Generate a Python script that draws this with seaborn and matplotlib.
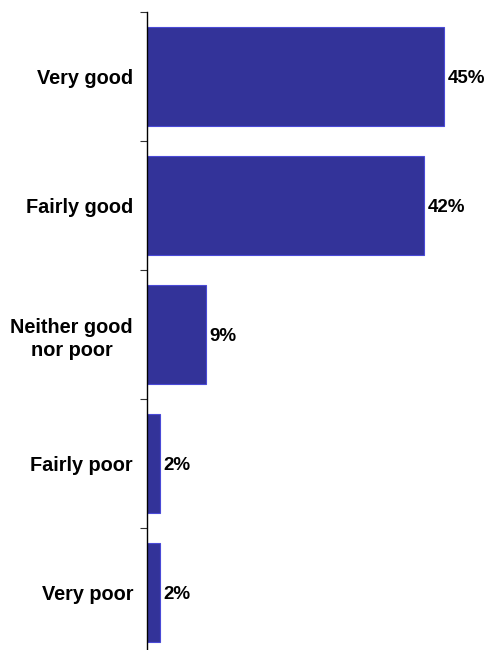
import matplotlib
matplotlib.use("Agg")
import matplotlib.pyplot as plt
import seaborn as sns
import pandas as pd
import numpy as np

categories = ["Very good", "Fairly good", "Neither good\nnor poor", "Fairly poor", "Very poor"]
values = [45, 42, 9, 2, 2]
value_labels = ["45%", "42%", "9%", "2%", "2%"]

sns.set_theme(style="white")
plt.rcParams["font.family"] = ["Liberation Sans", "DejaVu Sans"]

df = pd.DataFrame({"response": categories, "share": values})

fig = plt.figure(figsize=(4.86, 6.5), dpi=100)
ax = fig.add_axes([147 / 486, 1 - 657 / 650, 330 / 486, 645 / 650])

sns.barplot(data=df, x="share", y="response", color="#333399", width=0.77,
            edgecolor="#4a4ad6", linewidth=0.8, saturation=1, ax=ax)

ax.set_xlim(0, 50)
ax.set_ylim(len(categories) - 0.5, -0.5)

for spine in ["top", "right", "bottom"]:
    ax.spines[spine].set_visible(False)
ax.spines["left"].set_color("black")
ax.spines["left"].set_linewidth(1.0)

ax.set_xticks([])
ax.set_xlabel("")
ax.set_ylabel("")

# category labels without tick marks; boundary ticks as minor ticks
ax.set_yticks(range(len(categories)))
ax.set_yticklabels(categories, fontsize=14.3, fontweight="bold", ha="right",
                   multialignment="center", color="black", linespacing=1.3)
ax.tick_params(axis="y", which="major", length=0, pad=10)
ax.set_yticks(np.arange(-0.5, len(categories), 1.0), minor=True)
ax.tick_params(axis="y", which="minor", length=5, width=0.8, color="#333333",
               direction="out", left=True)

for i, (v, lab) in enumerate(zip(values, value_labels)):
    ax.annotate(lab, xy=(v, i), xytext=(2.5, -1.5), textcoords="offset points",
                va="center", ha="left", fontsize=13.5, fontweight="bold",
                color="black")

fig.savefig("out.png", dpi=100)
